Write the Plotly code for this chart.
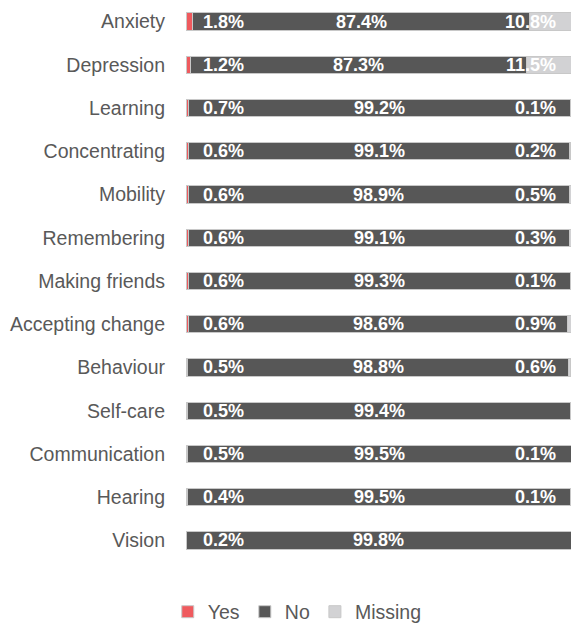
import plotly.graph_objects as go

categories = ["Anxiety", "Depression", "Learning", "Concentrating", "Mobility",
              "Remembering", "Making friends", "Accepting change", "Behaviour",
              "Self-care", "Communication", "Hearing", "Vision"]
yes_pct = [1.8, 1.2, 0.7, 0.6, 0.6, 0.6, 0.6, 0.6, 0.5, 0.5, 0.5, 0.4, 0.2]
no_pct = [87.4, 87.3, 99.2, 99.1, 98.9, 99.1, 99.3, 98.6, 98.8, 99.4, 99.5, 99.5, 99.8]
missing_pct = [10.8, 11.5, 0.1, 0.2, 0.5, 0.3, 0.1, 0.9, 0.6, 0.1, 0.1, 0.1, 0.0]
missing_labels = ["10.8%", "11.5%", "0.1%", "0.2%", "0.5%", "0.3%", "0.1%",
                  "0.9%", "0.6%", "", "0.1%", "0.1%", ""]

FONT = "Liberation Sans Narrow, Arial Narrow, Liberation Sans, Arial, sans-serif"
RED = "#EF5A5E"
DARK = "#575757"
LIGHT = "#D2D2D4"
TEXT = "#595959"

fig = go.Figure()
for name, vals, col in [("Yes", yes_pct, RED), ("No", no_pct, DARK), ("Missing", missing_pct, LIGHT)]:
    fig.add_trace(go.Bar(
        y=categories, x=vals, name=name, orientation="h",
        marker=dict(color=col, line=dict(color="#C8C8C8", width=1)),
        hoverinfo="x+name",
    ))

label_font = dict(family=FONT, size=18, color="white")
for i, cat in enumerate(categories):
    # Yes value, just inside the start of the bar
    fig.add_annotation(x=0, y=cat, text=f"<b>{yes_pct[i]:.1f}%</b>", showarrow=False,
                       xanchor="left", xshift=15, font=label_font)
    # No value, centred in its segment
    fig.add_annotation(x=yes_pct[i] + no_pct[i] / 2, y=cat, text=f"<b>{no_pct[i]:.1f}%</b>",
                       showarrow=False, xanchor="center", font=label_font)
    # Missing value, at the end of the bar
    if missing_labels[i]:
        fig.add_annotation(x=100, y=cat, text=f"<b>{missing_labels[i]}</b>", showarrow=False,
                           xanchor="right", xshift=-13, font=label_font)

fig.update_layout(
    barmode="stack",
    bargap=0.6,
    width=571, height=625,
    margin=dict(l=186, r=0, t=0, b=63, autoexpand=False),
    paper_bgcolor="white", plot_bgcolor="white",
    font=dict(family=FONT, size=19.5, color=TEXT),
    showlegend=True,
    legend=dict(orientation="h", x=0.289, xanchor="center", y=-0.089, yanchor="middle",
                font=dict(family=FONT, size=19.5, color=TEXT), itemwidth=30,
                traceorder="normal"),
    xaxis=dict(range=[0, 100], visible=False, fixedrange=True),
    yaxis=dict(autorange="reversed", showgrid=False, zeroline=False, showline=False,
               automargin=False, ticks="", ticklabelstandoff=20,
               tickfont=dict(family=FONT, size=19.5, color=TEXT)),
)

fig.write_html("out.html")
